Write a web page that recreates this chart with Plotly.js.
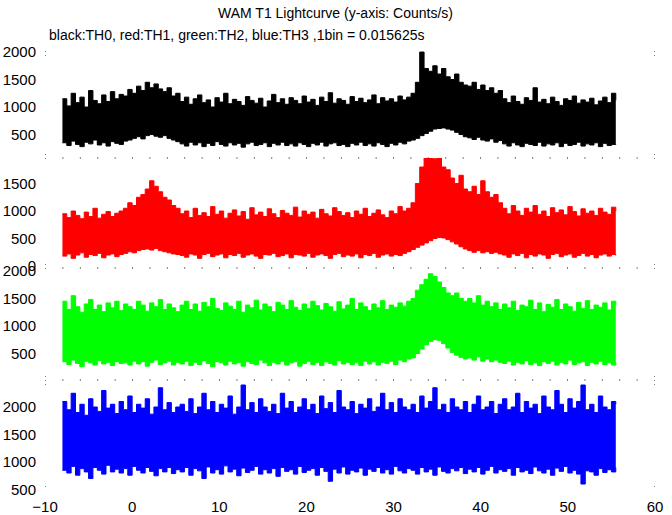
<!DOCTYPE html>
<html>
<head>
<meta charset="utf-8">
<script src="https://cdn.plot.ly/plotly-3.0.1.min.js"></script>
<style>html,body{margin:0;padding:0;background:#fff;}#chart{width:672px;height:515px;}</style>
</head>
<body>
<div id="chart"></div>
<script>
// time bins (s): start and step of the 0.5 s resampled envelope
const timeStart = -8;
const timeStep = 0.5;

// TH0 (black) upper / lower envelope, Counts/s
const th0High = [1150,1020,1250,1080,1180,1000,1300,1120,1060,1220,1100,1280,1150,1230,
1200,1320,1250,1380,1300,1450,1350,1420,1330,1280,1350,1200,1250,
1100,1180,1050,1150,1220,1080,1130,1000,1170,1090,
1250,1060,1140,1100,1030,1190,1120,1070,1160,1000,
1110,1230,1080,1150,1050,1170,1120,1060,1200,1090,
1140,1030,1180,1100,1260,1070,1150,1120,1050,1190,
1100,1160,1080,1130,1220,1060,1170,1110,1150,1090,
1200,1130,1180,
1250,1450,2000,1700,1650,1750,1600,1700,1550,1500,1600,1450,1400,
1380,1450,1320,1400,1300,1350,1250,1300,
1150,1080,1200,1100,1050,1170,1120,1350,1090,1140,1060,1180,1100,1030,1150,1120,1200,1070,1130,1090,1160,1040,1110,1180,1080,1250,1120];
const th0Low = [350,300,380,320,280,360,330,400,310,350,290,370,340,320,
380,400,430,460,420,480,500,470,450,480,430,400,370,
330,290,360,310,350,280,340,300,370,320,
290,350,310,340,270,330,360,300,320,350,
280,340,310,360,300,330,290,350,320,280,
340,310,360,290,330,350,300,320,280,340,
310,360,300,330,290,350,320,280,340,310,
360,330,380,
400,430,480,520,560,600,610,620,600,580,540,500,460,
440,410,450,400,380,420,360,390,
330,290,350,310,280,340,320,300,360,290,330,310,350,280,340,300,320,360,290,330,310,350,280,340,300,320,330];

// TH1 (red)
const th1High = [950,880,1000,920,860,980,900,1050,870,940,990,900,960,1000,
1050,1150,1100,1250,1300,1400,1550,1450,1350,1250,1200,1100,1050,
950,1000,880,1050,920,970,900,1080,940,1000,
870,960,1020,910,990,850,1060,930,980,900,
1040,950,880,1010,960,920,1070,890,1000,940,
980,870,1030,950,910,1060,990,920,970,880,
1000,940,1050,900,960,1020,930,880,1000,950,
1080,1000,1050,
1150,1500,1800,2000,2000,1950,2000,1800,1750,1600,1500,1650,1400,
1350,1450,1300,1550,1350,1250,1300,1150,
1050,950,1100,1000,920,1050,980,1100,940,1000,900,1060,970,1020,930,1080,990,910,1040,960,1000,920,1050,980,940,1070,1000];
const th1Low = [180,220,140,200,240,160,210,190,230,150,200,220,170,210,
230,260,240,280,300,310,290,320,280,260,240,220,210,
190,160,220,200,140,210,230,170,200,220,
150,210,190,230,160,200,220,180,140,210,
200,230,170,190,220,150,210,200,180,230,
160,200,220,190,140,210,230,170,200,180,
220,150,210,190,230,160,200,220,180,210,
190,230,260,
300,340,380,420,460,500,520,510,480,440,400,350,310,
280,250,280,240,260,230,250,220,
200,160,220,190,230,150,210,180,220,200,140,210,230,170,200,220,160,190,230,180,210,150,200,220,180,210,190];

// TH2 (green)
const th2High = [1450,1300,1550,1350,1250,1400,1480,1300,1380,1260,1420,1330,1450,1280,
1400,1350,1300,1450,1380,1270,1420,1350,1480,1300,1400,1330,1260,
1380,1450,1300,1400,1270,1430,1350,1500,1320,1280,
1420,1360,1300,1450,1250,1380,1330,1470,1290,1400,
1350,1260,1430,1380,1300,1460,1340,1280,1400,1320,
1450,1370,1290,1410,1350,1270,1440,1310,1380,1500,
1300,1420,1350,1280,1400,1330,1460,1300,1380,1340,
1420,1360,1450,
1500,1650,1750,1850,1950,1900,1800,1700,1600,1550,1600,1500,1450,
1500,1420,1550,1380,1450,1350,1420,1300,
1400,1330,1450,1280,1380,1350,1470,1300,1420,1260,1390,1340,1480,1300,1400,1350,1270,1430,1320,1460,1300,1380,1340,1420,1290,1450,1380];
const th2Low = [350,300,380,320,260,360,330,290,370,310,340,280,350,320,
330,290,360,310,350,270,340,380,300,330,360,290,340,
310,360,280,340,300,370,320,260,350,330,
290,360,310,340,270,350,320,300,380,330,
280,340,310,360,290,330,350,270,320,360,
300,340,280,350,320,290,370,310,340,300,
330,280,360,310,350,290,340,320,360,300,
380,350,400,
420,500,580,660,720,750,740,680,600,520,470,430,400,
420,380,440,360,400,350,380,340,
320,360,290,340,310,370,300,330,280,350,320,360,290,340,310,380,300,330,350,280,340,310,360,300,330,290,340];

// TH3 (blue)
const th3High = [2100,1950,2250,1900,2050,1850,2150,2000,1920,2300,1980,2050,1880,2100,
1950,2200,1900,2050,1980,2150,1870,2000,2350,1950,2080,1900,2000,
2050,1920,2150,1880,2000,2250,1950,2100,1900,2050,
1980,2200,1870,2000,2400,1950,2080,1900,2150,2000,
1920,2050,1880,2250,1980,2100,1900,2000,2150,1950,
2050,1880,2200,1970,2080,1900,2300,2000,1950,2100,
1880,2050,1980,2150,1920,2000,2250,1950,2080,1900,
2150,2000,1950,
2050,1900,2200,1980,2100,2350,1950,2050,1900,2150,2000,1950,2100,
1900,2050,2200,1950,2000,2100,1880,2050,
2150,1950,2000,2250,1900,2100,1980,2050,1880,2200,2000,1950,2300,2050,1900,2150,1980,2100,2400,1950,2050,1900,2200,2000,1950,2100,2050];
const th3Low = [850,800,920,760,880,820,700,900,850,780,940,820,870,800,
880,760,920,850,800,900,830,750,880,820,900,790,860,
820,900,760,880,840,700,910,800,860,780,
930,820,870,750,890,810,850,920,780,860,
800,880,740,900,830,860,780,920,810,850,
880,760,900,830,650,870,800,910,780,850,
820,890,760,870,830,900,800,860,780,920,
840,800,880,
850,780,900,820,870,760,910,830,800,880,840,900,790,
870,820,900,780,850,920,800,860,
830,880,760,900,820,850,790,910,840,800,870,760,890,830,920,800,850,780,600,840,820,760,880,810,860,820,900];

const xTickVals = [-10,0,10,20,30,40,50,60];
const panelTicks = [[500,1000,1500,2000],[0,500,1000,1500],[500,1000,1500,2000],[500,1000,1500,2000]];
const panelColors = ['#000000','#ff0000','#00ff00','#0000ff'];
const highs = [th0High, th1High, th2High, th3High];
const lows = [th0Low, th1Low, th2Low, th3Low];

const times = th0High.map((_, i) => timeStart + i * timeStep);

const traces = [];
const yNames = ['y','y2','y3','y4'];
for (let p = 0; p < 4; p++) {
  traces.push({x: times, y: lows[p], xaxis: 'x', yaxis: yNames[p], mode: 'lines',
    line: {color: panelColors[p], width: 1, shape: 'hv'}, hoverinfo: 'skip', showlegend: false});
  traces.push({x: times, y: highs[p], xaxis: 'x', yaxis: yNames[p], mode: 'lines', fill: 'tonexty',
    fillcolor: panelColors[p], line: {color: panelColors[p], width: 1, shape: 'hv'}, hoverinfo: 'skip', showlegend: false});
}

// layout geometry (pixels)
const W = 672, H = 515, mT = 45, mB = 23;
const plotH = H - mT - mB;
const bounds = [45, 158, 268, 380, 492];
const toPaper = px => (H - mB - px) / plotH;
const ranges = [[73, 2128], [-36, 1964], [18, 2054], [455, 2491]];
const tickFont = {family: 'Liberation Sans, Arial, sans-serif', size: 15, color: '#000'};

const layout = {
  width: W, height: H,
  margin: {l: 45, r: 17, t: mT, b: mB},
  paper_bgcolor: '#fff', plot_bgcolor: 'rgba(0,0,0,0)',
  showlegend: false,
  xaxis: {range: [-10, 60], anchor: 'y4', tickvals: xTickVals, showgrid: false, zeroline: false,
    showline: false, ticks: '', tickfont: tickFont, ticklabelstandoff: 4},
  annotations: [
    {text: 'WAM T1 Lightcurve (y-axis: Counts/s)', xref: 'paper', yref: 'paper', x: 0.476, y: 1, yshift: 32,
     xanchor: 'center', yanchor: 'middle', showarrow: false, font: {family: 'Liberation Sans, Arial, sans-serif', size: 14, color: '#000'}},
    {text: 'black:TH0, red:TH1, green:TH2, blue:TH3 ,1bin = 0.015625s', xref: 'paper', yref: 'paper', x: 0.003, y: 1, yshift: 10,
     xanchor: 'left', yanchor: 'middle', showarrow: false, font: {family: 'Liberation Sans, Arial, sans-serif', size: 14, color: '#000'}}
  ],
  shapes: []
};
for (let p = 0; p < 4; p++) {
  const key = p === 0 ? 'yaxis' : 'yaxis' + (p + 1);
  layout[key] = {domain: [toPaper(bounds[p + 1]), toPaper(bounds[p])], range: ranges[p], anchor: 'x',
    tickvals: panelTicks[p], showgrid: false, zeroline: false, showline: false, ticks: '',
    tickfont: tickFont, ticklabelstandoff: 8};
}
// dotted panel separators
for (let b = 1; b < 4; b++) {
  layout.shapes.push({type: 'line', xref: 'x', yref: 'paper', x0: -8, x1: 58, y0: toPaper(bounds[b]), y1: toPaper(bounds[b]),
    line: {color: '#000', width: 1, dash: '1px,16.4px'}, layer: 'below'});
}
// short dotted frame marks at both sides
const sideMarks = [[51, 58], [154, 162], [264, 272], [376, 386], [486, 490]];
for (const xs of [-10, 60]) {
  for (const m of sideMarks) {
    layout.shapes.push({type: 'line', xref: 'x', yref: 'paper', x0: xs, x1: xs, y0: toPaper(m[0]), y1: toPaper(m[1]),
      line: {color: '#000', width: 1, dash: '1px,3px'}, layer: 'below'});
  }
}

Plotly.newPlot('chart', traces, layout, {staticPlot: true, displayModeBar: false});
</script>
</body>
</html>
